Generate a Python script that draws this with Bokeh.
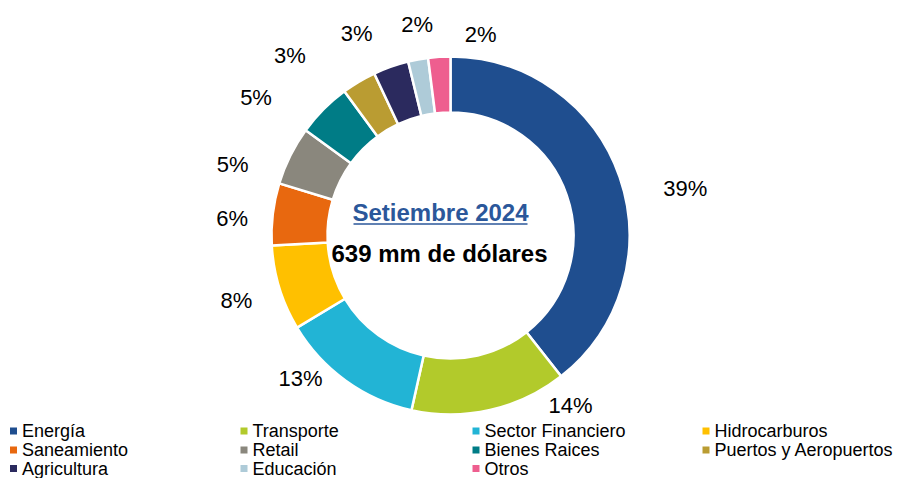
import math
import numpy as np
from bokeh.plotting import figure
from bokeh.models import ColumnDataSource, Range1d
from bokeh.core.properties import value
from bokeh.embed import file_html
from bokeh.resources import INLINE

# ---------------- data ----------------
categories = ["Energía", "Transporte", "Sector Financiero", "Hidrocarburos",
              "Saneamiento", "Retail", "Bienes Raices", "Puertos y Aeropuertos",
              "Agricultura", "Educación", "Otros"]
shares = [39.4, 14.1, 12.9, 7.7, 5.6, 5.3, 4.9, 3.1, 3.2, 1.8, 2.0]
colors = ["#1F4E8F", "#B2CA2B", "#22B4D5", "#FFC000", "#E8680F", "#8A877D",
          "#007C86", "#BA9C32", "#2B2A5E", "#AECBD8", "#EE5E8F"]
title_text = "Setiembre 2024"
total_text = "639 mm de dólares"

# ---------------- layout (screen pixels, y measured from top) ----------------
W, H = 901, 478
CX, CY = 450, 235
R_OUT, R_IN = 179, 123
R_LABEL = 222
# manual label nudges (dx, dy) as in the original chart
label_nudge = [(25, 26), (71, -47), (-20, -37), (-2, 0), (2, 9), (-19, 28),
               (-37, 18), (-47, 11), (-20, 7), (7, 7), (44, 21)]
LEG_COL_X = [13, 243.5, 475.5, 705.5]
LEG_ROW_Y = [430.5, 449.5, 468]
FONT = value("Liberation Sans")


def sy(Y):
    return H - Y


p = figure(width=W, height=H, output_backend="svg", toolbar_location=None,
           x_range=Range1d(0, W), y_range=Range1d(0, H),
           x_axis_type=None, y_axis_type=None, min_border=0,
           min_border_left=0, min_border_right=0, min_border_top=0,
           min_border_bottom=0)
p.outline_line_color = None
p.background_fill_color = "white"
p.border_fill_color = "white"
p.grid.visible = False

vals = np.array(shares, dtype=float)
total = vals.sum()
end_frac = np.cumsum(vals) / total
start_frac = end_frac - vals / total
mid_frac = (start_frac + end_frac) / 2

src = ColumnDataSource(dict(
    cat=categories, color=colors,
    start=list(math.pi / 2 - 2 * math.pi * end_frac),
    end=list(math.pi / 2 - 2 * math.pi * start_frac),
))
p.annular_wedge(x=CX, y=sy(CY), inner_radius=R_IN, outer_radius=R_OUT,
                start_angle="start", end_angle="end", fill_color="color",
                line_color="white", line_width=2.5, source=src)

# percentage labels
lx, ly, lt = [], [], []
for f, v, (dx, dy) in zip(mid_frac, vals, label_nudge):
    th = 2 * math.pi * f
    X = CX + R_LABEL * math.sin(th) + dx
    Y = CY - R_LABEL * math.cos(th) + dy
    lx.append(X)
    ly.append(sy(Y))
    lt.append(f"{round(v)}%")
p.text(x=lx, y=ly, text=lt, text_font=FONT, text_font_size="22px",
       text_color="#000000", text_align="center", text_baseline="middle")

# centre texts
p.text(x=[440], y=[sy(212)], text=[title_text], text_font=FONT,
       text_font_size="24px", text_font_style="bold", text_color="#2B579A",
       text_align="center", text_baseline="middle")
p.segment(x0=[353], x1=[527], y0=[sy(223.5)], y1=[sy(223.5)],
          line_color="#2B579A", line_width=1.5)
p.text(x=[439], y=[sy(253)], text=[total_text], text_font=FONT,
       text_font_size="24px", text_font_style="bold", text_color="#000000",
       text_align="center", text_baseline="middle")

# legend (4 columns, row-major)
gx, gy, tx, ty = [], [], [], []
for i, c in enumerate(categories):
    col, row = i % 4, i // 4
    gx.append(LEG_COL_X[col])
    gy.append(sy(LEG_ROW_Y[row]))
    tx.append(LEG_COL_X[col] + 8.5)
    ty.append(sy(LEG_ROW_Y[row]))
p.scatter(x=gx, y=gy, marker="square", size=7, fill_color=colors,
          line_color=None)
p.text(x=tx, y=ty, text=categories, text_font=FONT, text_font_size="18px",
       text_color="#000000", text_align="left", text_baseline="middle")

open("out.html", "w").write(file_html(p, INLINE))
